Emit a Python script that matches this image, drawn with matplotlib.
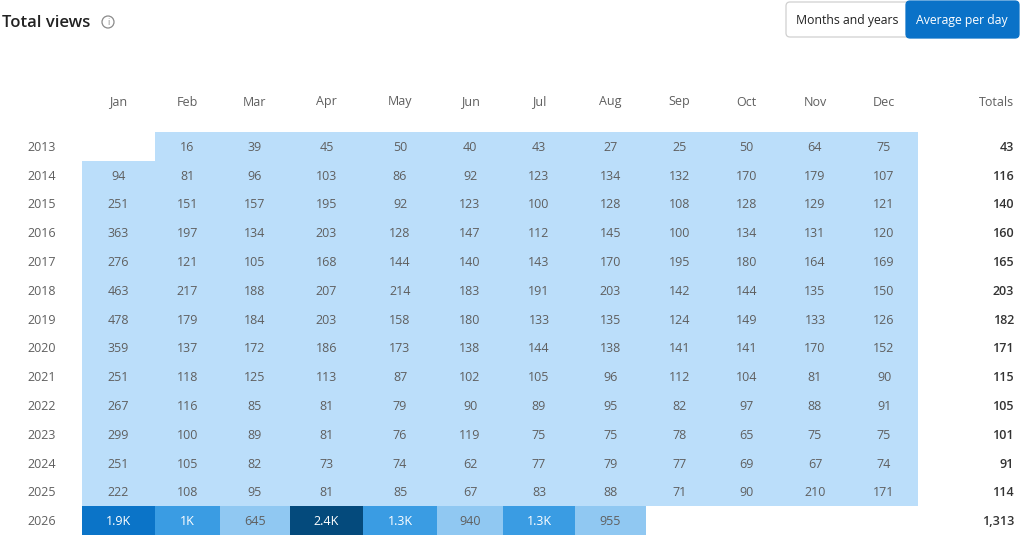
import matplotlib.pyplot as plt
from matplotlib.colors import ListedColormap, BoundaryNorm
from matplotlib.patches import FancyBboxPatch, Circle
import numpy as np

plt.rcParams['font.family'] = ['Open Sans', 'DejaVu Sans']

months = ['Jan', 'Feb', 'Mar', 'Apr', 'May', 'Jun', 'Jul', 'Aug', 'Sep', 'Oct', 'Nov', 'Dec']
years = list(range(2013, 2027))
nan = np.nan
views = [
    [nan, 16, 39, 45, 50, 40, 43, 27, 25, 50, 64, 75],
    [94, 81, 96, 103, 86, 92, 123, 134, 132, 170, 179, 107],
    [251, 151, 157, 195, 92, 123, 100, 128, 108, 128, 129, 121],
    [363, 197, 134, 203, 128, 147, 112, 145, 100, 134, 131, 120],
    [276, 121, 105, 168, 144, 140, 143, 170, 195, 180, 164, 169],
    [463, 217, 188, 207, 214, 183, 191, 203, 142, 144, 135, 150],
    [478, 179, 184, 203, 158, 180, 133, 135, 124, 149, 133, 126],
    [359, 137, 172, 186, 173, 138, 144, 138, 141, 141, 170, 152],
    [251, 118, 125, 113, 87, 102, 105, 96, 112, 104, 81, 90],
    [267, 116, 85, 81, 79, 90, 89, 95, 82, 97, 88, 91],
    [299, 100, 89, 81, 76, 119, 75, 75, 78, 65, 75, 75],
    [251, 105, 82, 73, 74, 62, 77, 79, 77, 69, 67, 74],
    [222, 108, 95, 81, 85, 67, 83, 88, 71, 90, 210, 171],
    [1900, 1000, 645, 2400, 1300, 940, 1300, 955, nan, nan, nan, nan],
]
totals = [43, 116, 140, 160, 165, 203, 182, 171, 115, 105, 101, 91, 114, 1313]

W, H = 1023, 547
fig = plt.figure(figsize=(W / 100, H / 100), dpi=100)

# whole figure as one axes in pixel coords
ax = fig.add_axes([0, 0, 1, 1])
ax.set_xlim(0, W)
ax.set_ylim(H, 0)
ax.axis('off')

# column edges (layout, px) and row edges
col_edges = np.array([82, 155, 220, 290, 363, 437, 503, 575, 646, 713, 780, 850, 918])
row_edges = np.linspace(132, 535, len(years) + 1)
col_mid = (col_edges[:-1] + col_edges[1:]) / 2
row_mid = (row_edges[:-1] + row_edges[1:]) / 2 + 1

data = np.ma.masked_invalid(np.array(views, dtype=float))
cmap = ListedColormap(['#bbdefa', '#90c8f2', '#3a9ce3', '#0b74c8', '#044a7c'])
norm = BoundaryNorm([0, 600, 1000, 1500, 2000, 10000], cmap.N)
ax.pcolormesh(col_edges, row_edges, data, cmap=cmap, norm=norm)

def fmt(v):
    if v >= 1000:
        s = f"{v / 1000:.1f}".rstrip('0').rstrip('.')
        return s + 'K'
    return f"{int(v)}"

fs = 9
for i, row in enumerate(views):
    for j, v in enumerate(row):
        if np.isnan(v):
            continue
        col = 'white' if v >= 1000 else '#5f5f5f'
        ax.text(col_mid[j], row_mid[i], fmt(v), ha='center', va='center',
                fontsize=fs, color=col)
    ax.text(42, row_mid[i], str(years[i]), ha='center', va='center',
            fontsize=fs, color='#5f5f5f')
    ax.text(1014, row_mid[i], f"{totals[i]:,}", ha='right', va='center',
            fontsize=fs, color='#333333', fontweight='semibold')

for j, m in enumerate(months):
    ax.text(col_mid[j], 102, m, ha='center', va='center', fontsize=fs, color='#5f5f5f')
ax.text(1014, 102, 'Totals', ha='right', va='center', fontsize=fs, color='#5f5f5f')

# title and info icon
ax.text(2, 23, 'Total views', ha='left', va='center', fontsize=12,
        fontweight='semibold', color='#222222')
ax.add_patch(Circle((108, 22), 6, fill=False, ec='#8a8a8a', lw=0.9))
ax.text(108, 22.5, 'i', ha='center', va='center', fontsize=6.5, color='#8a8a8a')

# toggle buttons
ax.add_patch(FancyBboxPatch((786, 2), 220, 35, boxstyle='round,pad=0,rounding_size=4',
                            fc='white', ec='#d0d0d0', lw=0.9))
ax.add_patch(FancyBboxPatch((906, 1), 113, 37, boxstyle='round,pad=0,rounding_size=4',
                            fc='#0a72c8', ec='#0a72c8', lw=0.9))
ax.text(847, 20.5, 'Months and years', ha='center', va='center', fontsize=8.8, color='#222222')
ax.text(962, 20.5, 'Average per day', ha='center', va='center', fontsize=8.8, color='white')

plt.savefig('out.png', dpi=100)
